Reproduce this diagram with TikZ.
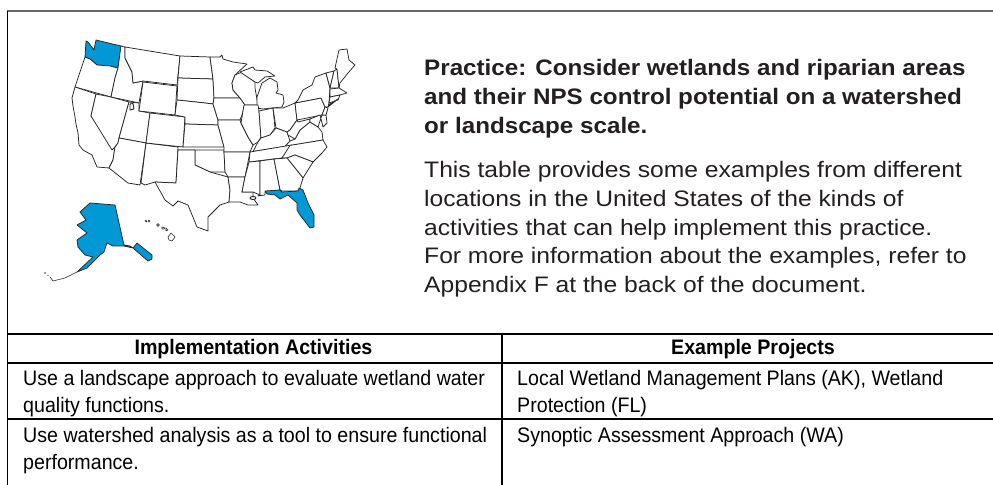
\documentclass[tikz,border=0pt]{standalone}
\usepackage{fontspec}
\setmainfont{Liberation Sans}
\newfontfamily\widebody[FakeStretch=1.10]{Liberation Sans}
\newfontfamily\widehead[FakeStretch=1.08]{Liberation Sans}
\newfontfamily\narrowcell[FakeStretch=0.935]{Liberation Sans}
\definecolor{hl}{HTML}{0099D6}
\definecolor{rulegrey}{HTML}{666666}
\definecolor{ink}{HTML}{231F20}
\tikzset{
  st/.style={draw=black!85,line width=0.75bp,line join=round,fill=white},
  hi/.style={st,fill=hl},
  frame/.style={draw=black,line width=1.5bp},
  headtxt/.style={anchor=north west,align=left,inner sep=0pt,text=ink,font=\widehead\fontsize{22.4bp}{29bp}\selectfont\bfseries},
  bodytxt/.style={anchor=north west,align=left,inner sep=0pt,text=ink,font=\widebody\fontsize{22.4bp}{28.8bp}\selectfont},
  celltxt/.style={anchor=north west,align=left,inner sep=0pt,font=\narrowcell\fontsize{21bp}{27bp}\selectfont},
  thtxt/.style={anchor=center,inner sep=0pt,font=\narrowcell\fontsize{21bp}{24bp}\selectfont\bfseries}
}
\begin{document}
\begin{tikzpicture}[x=1bp,y=-1bp]
\useasboundingbox (0,0) rectangle (993,485);
\fill[white] (0,0) rectangle (993,485);
% frame and table
\draw[draw=rulegrey,line width=1.8bp] (7,11) -- (993,11);
\draw[frame] (7.3,11) -- (7.3,485);
\draw[frame] (7,334) -- (993,334);
\draw[frame] (7,363) -- (993,363);
\draw[frame] (7,419) -- (993,419);
\draw[frame] (502,334) -- (502,485);
% map: west
\draw[hi] (86,41) -- (88,42) -- (94,50) -- (96,40) -- (121,46) -- (118,68) -- (110,66) -- (97,65) -- (90,59) -- (85,57) -- cycle;
\draw[st] (85,57) -- (79,75) -- (75,87) -- (111,97) -- (115,78) -- (118,68) -- (110,66) -- (97,65) -- (90,59) -- cycle;
\draw[st] (75,87) -- (72,98) -- (73,106) -- (75,117) -- (76,124) -- (78,133) -- (79,145) -- (83,150) -- (92,155) -- (97,167) -- (109,168) -- (113,160) -- (115,147) -- (118,143) -- (91,116) -- (96,94) -- cycle;
\draw[st] (96,94) -- (91,116) -- (112,150) -- (115,147) -- (118,143) -- (119,138) -- (129,102) -- (111,97) -- cycle;
\draw[st] (125,47) -- (125,58) -- (132,72) -- (133,83) -- (143,81) -- (139,103) -- (111,97) -- (115,78) -- (118,68) -- (121,46) -- cycle;
\draw[st] (129,102) -- (139,103) -- (139,111) -- (150,113) -- (146,143) -- (119,138) -- cycle;
\draw[st,line width=0.9bp] (130,104) -- (133,103.5) -- (134,109) -- (130,110) -- cycle;
\draw[st] (109,168) -- (128,183) -- (140,185) -- (146,143) -- (119,138) -- (118,143) -- (115,147) -- (113,160) -- cycle;
\draw[st] (146,143) -- (178,147) -- (176,183) -- (155,182) -- (145,185) -- (141,183) -- cycle;
\draw[st] (150,113) -- (185,117) -- (183,147) -- (146,143) -- cycle;
\draw[st] (143,82) -- (177,86) -- (175,115) -- (139,111) -- cycle;
\draw[st] (125,47) -- (180,56) -- (177,85) -- (143,81) -- (133,83) -- (132,72) -- (125,58) -- cycle;
% plains
\draw[st] (180,56) -- (210,57) -- (213,79) -- (178,78) -- cycle;
\draw[st] (178,78) -- (213,79) -- (214,98) -- (213,104) -- (205,103) -- (177,100) -- cycle;
\draw[st] (177,100) -- (205,103) -- (213,104) -- (218,120) -- (218,125) -- (185,124) -- (185,117) -- (175,115) -- cycle;
\draw[st] (185,124) -- (218,125) -- (224,147) -- (183,147) -- cycle;
\draw[st] (178,150) -- (224,150) -- (225,172) -- (210,172) -- (195,165) -- (195,150) -- cycle;
\draw[st] (155,182) -- (176,183) -- (178,150) -- (195,150) -- (195,165) -- (210,172) -- (228,177) -- (230,190) -- (229,202) -- (220,205) -- (208,217) -- (208,231) -- (197,227) -- (188,205) -- (178,201) -- (173,206) -- (165,200) -- cycle;
\draw[st] (210,57) -- (220,57) -- (222,55) -- (223,59) -- (233,62) -- (247,64) -- (235,75) -- (232,83) -- (233,90) -- (240,98) -- (214,98) -- (213,79) -- cycle;
\draw[st] (214,98) -- (240,98) -- (245,105) -- (242,115) -- (240,120) -- (218,120) -- (213,104) -- cycle;
\draw[st] (218,125) -- (218,120) -- (240,120) -- (241,123) -- (248,137) -- (253,145) -- (250,152) -- (224,152) -- (224,147) -- cycle;
\draw[st] (224,152) -- (250,152) -- (248,162) -- (245,177) -- (228,177) -- (225,172) -- cycle;
\draw[st] (228,177) -- (245,177) -- (242,192) -- (253,192) -- (253,198) -- (258,205) -- (248,205) -- (240,202) -- (229,202) -- (230,190) -- cycle;
\draw[st,line width=0.9bp] (253,198) ellipse[x radius=3,y radius=1.5];
% great lakes
\draw[st] (235,75) -- (242,72) -- (255,82) -- (255,88) -- (258,105) -- (245,105) -- (240,98) -- (233,90) -- (232,83) -- cycle;
\draw[st] (240,72) -- (253,67) -- (255,70) -- (267,71) -- (275,76) -- (265,77) -- (258,83) -- (255,82) -- cycle;
\draw[st] (257,108) -- (257,97) -- (262,83) -- (270,78) -- (277,82) -- (278,90) -- (276,93) -- (283,95) -- (284,102) -- (282,107) -- (263,109) -- cycle;
\draw[st] (244,105) -- (258,105) -- (259,111) -- (261,137) -- (258,142) -- (253,145) -- (248,137) -- (241,123) -- cycle;
\draw[st] (259,111) -- (273,108) -- (275,128) -- (270,135) -- (261,138) -- cycle;
\draw[st] (273,108) -- (283,108) -- (295,103) -- (297,120) -- (290,130) -- (287,132) -- (276,128) -- cycle;
\draw[st] (253,151.5) -- (258,142) -- (261,138) -- (270,135) -- (276,128) -- (287,132) -- (288,135) -- (290,141) -- (285,146.5) -- cycle;
% south east
\draw[st] (285,146.5) -- (290,141) -- (295,139) -- (300,130) -- (310,122) -- (318,127) -- (322,132) -- (323,140) -- cycle;
\draw[st] (250,152) -- (292,145) -- (282,158) -- (249,162) -- cycle;
\draw[st] (290,145.4) -- (323,140) -- (327,147) -- (322,153) -- (313,162) -- (295,155) -- (287,158) -- (282,158) -- cycle;
\draw[st] (287,158) -- (303,178) -- (313,162) -- (295,155) -- cycle;
\draw[st] (249,162) -- (260,161) -- (260,195) -- (253,192) -- (242,192) -- (245,177) -- cycle;
\draw[st] (260,161) -- (274,159) -- (280,190) -- (265,192) -- (265,195) -- (258,196) -- (260,195) -- cycle;
\draw[st] (274,159) -- (287,158) -- (303,178) -- (300,188) -- (298,191) -- (282,191) -- (280,190) -- cycle;
\draw[hi] (265,191) -- (280,190) -- (282,192) -- (298,191) -- (299,188) -- (303,190) -- (308,203) -- (314,215) -- (314,227) -- (310,228) -- (300,215) -- (297,210) -- (297,203) -- (288,195) -- (280,199) -- (275,195) -- (267,194) -- cycle;
% north east
\draw[st] (297,120) -- (322,115) -- (325,107) -- (321,98) -- (295,103) -- cycle;
\draw[st] (297,120) -- (298,122) -- (310,119) -- (310,122) -- (300,130) -- (295,139) -- (288,135) -- (287,132) -- (290,130) -- cycle;
\draw[st] (310,119) -- (320,115) -- (323,127) -- (327,123) -- (326,115) -- (322,115) -- (318,127) -- (310,122) -- cycle;
\draw[st] (295,103) -- (298,100) -- (303,90) -- (312,85) -- (315,77) -- (326,73) -- (330,88) -- (329,103) -- (328,107) -- (325,107) -- (321,98) -- cycle;
\draw[st] (325,107) -- (328,108) -- (326,115) -- (322,115) -- cycle;
\draw[st] (326,73) -- (334,71) -- (330,88) -- cycle;
\draw[st] (334,71) -- (337,69) -- (339,88) -- (330,88) -- cycle;
\draw[st] (335,68) -- (339,50) -- (347,49) -- (349,60) -- (355,65) -- (348,73) -- (340,83) -- (339,88) -- (337,69) -- cycle;
\draw[st] (330,89) -- (339,88) -- (347,93) -- (340,95) -- (330,97) -- cycle;
\draw[st] (330,97) -- (340,95) -- (338,100) -- (329,103) -- cycle;
\draw[st] (328,107) -- (338,99) -- (330,104) -- cycle;
% hawaii
\draw[st,line width=0.6bp] (145,221) -- (147,222) -- (146,220) -- cycle;
\draw[st,line width=0.6bp] (149,221) circle[radius=1];
\draw[st,line width=0.6bp] (158,225) circle[radius=1.4];
\draw[st,line width=0.6bp] (162,227) -- (165,228) -- (164,229) -- (162,229) -- cycle;
\draw[st,line width=0.6bp] (166,228) -- (168,230) -- (166,231) -- cycle;
\draw[st,line width=0.6bp] (171,233) -- (175,237) -- (172,241) -- (169,240) -- (168,237) -- cycle;
% alaska
\draw[st,line width=0.6bp] (77,272) -- (65,278) -- (53,281) -- (50,277);
\fill[black!80] (45,273) circle[radius=0.8] (48,275.5) circle[radius=0.6];
\draw[hi] (80,212) -- (90,203) -- (115,205) -- (124,245) -- (130,246) -- (133,248) -- (137,243) -- (152,255) -- (152,259) -- (148,261) -- (133,248) -- (124,246) -- (113,246) -- (107,243) -- (104,252) -- (100,255) -- (87,268) -- (77,272) -- (93,257) -- (85,255) -- (78,247) -- (77,240) -- (87,233) -- (77,225) -- (86,220) -- cycle;
% text
\node[headtxt] (head) at (424,59) {Practice: Consider wetlands and riparian areas\\and their NPS control potential on a watershed\\or landscape scale.};
\node[bodytxt] (body) at (424,161) {This table provides some examples from different\\locations in the United States of the kinds of\\activities that can help implement this practice.\\For more information about the examples, refer to\\Appendix F at the back of the document.};
\node[thtxt] (th1) at (253.5,349.5) {Implementation Activities};
\node[thtxt] (th2) at (753,349.5) {Example Projects};
\node[celltxt] (c11) at (23,370) {Use a landscape approach to evaluate wetland water\\quality functions.};
\node[celltxt] (c12) at (517,370) {Local Wetland Management Plans (AK), Wetland\\Protection (FL)};
\node[celltxt] (c21) at (23,427) {Use watershed analysis as a tool to ensure functional\\performance.};
\node[celltxt] (c22) at (517,427) {Synoptic Assessment Approach (WA)};
\end{tikzpicture}
\end{document}
